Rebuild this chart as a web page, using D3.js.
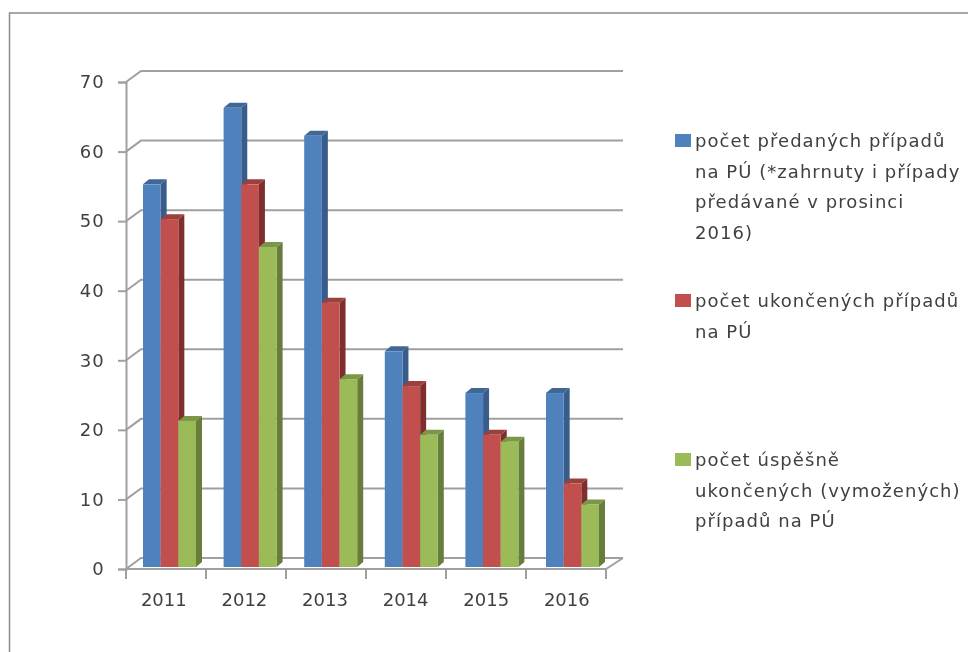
<!DOCTYPE html>
<html>
<head>
<meta charset="utf-8">
<script src="https://cdnjs.cloudflare.com/ajax/libs/d3/7.8.5/d3.min.js"></script>
<style>
	html, body { margin: 0; padding: 0; background: #fff; }
	svg { display: block; }
	text { font-family: "DejaVu Sans", sans-serif; fill: #404040; }
</style>
</head>
<body>
<svg id="chart" width="968" height="652"></svg>
<script>
var years = ["2011", "2012", "2013", "2014", "2015", "2016"];
var predane = [55, 66, 62, 31, 25, 25];
var ukoncene = [50, 55, 38, 26, 19, 12];
var uspesne = [21, 46, 27, 19, 18, 9];
var yTicks = [0, 10, 20, 30, 40, 50, 60, 70];

var seriesNames = [
	["počet předaných případů", "na PÚ (*zahrnuty i případy", "předávané v prosinci", "2016)"],
	["počet ukončených případů", "na PÚ"],
	["počet úspěšně", "ukončených (vymožených)", "případů na PÚ"]
];
var seriesValues = [predane, ukoncene, uspesne];
var front = ["#4f81bd", "#c0504d", "#9bbb59"];
var side = ["#385d8a", "#7f2f2d", "#667d3a"];
var top3d = ["#3f6797", "#9a403e", "#7c9647"];
var legendY = [140, 300, 459];

var gridColor = "#a0a0a0";
var svg = d3.select("#chart");

// blurry like the screenshot
var defs = svg.append("defs");
defs.append("filter").attr("id", "soft")
	.append("feGaussianBlur").attr("stdDeviation", 0.5);

var root = svg.append("g").attr("filter", "url(#soft)");

// outer frame
root.append("path")
	.attr("d", d3.line()([[9.5, 652], [9.5, 13], [968, 13]]))
	.attr("fill", "none")
	.attr("stroke", "#8c8c8c")
	.attr("stroke-width", 1.5);

var x0 = d3.scaleBand().domain(years).range([123.5, 607.1]);
var x1 = d3.scaleBand().domain(d3.range(3)).range([19.5, 72.5]);
var y = d3.scaleLinear().domain([0, 70]).range([569, 82]);

// depth of the wall and of the bars
var wallX = 15, wallY = -11;
var barDX = 6, barDY = -5, barLift = -2;

// back wall grid with the diagonals to the axis
root.append("g").selectAll("path")
	.data(yTicks)
	.enter().append("path")
	.attr("d", function(d) {
		return d3.line()([[126, y(d)], [126 + wallX, y(d) + wallY], [623, y(d) + wallY]]);
	})
	.attr("fill", "none")
	.attr("stroke", gridColor)
	.attr("stroke-width", 2);

// floor front edge
root.append("path")
	.attr("d", d3.line()([[126, y(0)], [606, y(0)], [623, y(0) + wallY]]))
	.attr("fill", "none")
	.attr("stroke", gridColor)
	.attr("stroke-width", 2);

// axes
var yAxis = d3.axisLeft(y).tickValues(yTicks).tickSize(8).tickPadding(13);
var yG = root.append("g").attr("transform", "translate(126,0)").call(yAxis);

var xAxis = d3.axisBottom(x0).tickSize(0).tickPadding(24);
var xG = root.append("g").attr("transform", "translate(0," + y(0) + ")").call(xAxis);

xG.select(".domain").remove();
yG.selectAll("text").style("font-size", "18px").style("letter-spacing", "1.2px");
xG.selectAll("text").style("font-size", "18px");
root.selectAll(".domain, .tick line")
	.attr("stroke", gridColor)
	.attr("stroke-width", 2);

// category ticks on the floor edge
root.append("g").selectAll("line")
	.data(years.concat("end"))
	.enter().append("line")
	.attr("x1", function(d, i) { return 126 + i * 80; })
	.attr("x2", function(d, i) { return 126 + i * 80; })
	.attr("y1", y(0))
	.attr("y2", y(0) + 10)
	.attr("stroke", gridColor)
	.attr("stroke-width", 2);

// bars, one layer per series so the next one covers the side of the previous
seriesValues.forEach(function(values, s) {
	var g = root.append("g");
	var w = x1.bandwidth();
	var bx = function(i) { return x0(years[i]) + x1(s); };
	var by = function(d) { return y(d) + barLift; };

	g.selectAll(".side")
		.data(values)
		.enter().append("path")
		.attr("class", "side")
		.attr("fill", side[s])
		.attr("d", function(d, i) {
			var r = bx(i) + w;
			return d3.line()([[r, by(d)], [r + barDX, by(d) + barDY], [r + barDX, by(0) + barDY], [r, by(0)]]) + "Z";
		});

	g.selectAll(".top")
		.data(values)
		.enter().append("path")
		.attr("class", "top")
		.attr("fill", top3d[s])
		.attr("d", function(d, i) {
			var l = bx(i);
			return d3.line()([[l, by(d)], [l + barDX, by(d) + barDY], [l + w + barDX, by(d) + barDY], [l + w, by(d)]]) + "Z";
		});

	g.selectAll(".front")
		.data(values)
		.enter().append("rect")
		.attr("class", "front")
		.attr("fill", front[s])
		.attr("x", function(d, i) { return bx(i); })
		.attr("y", by)
		.attr("width", w)
		.attr("height", function(d) { return by(0) - by(d); });
});

// legend
var legend = root.append("g").selectAll("g")
	.data(seriesNames)
	.enter().append("g")
	.attr("transform", function(d, i) { return "translate(0," + legendY[i] + ")"; });

legend.append("rect")
	.attr("x", 675)
	.attr("y", -6)
	.attr("width", 16)
	.attr("height", 13)
	.attr("fill", function(d, i) { return front[i]; });

legend.selectAll("text")
	.data(function(d) { return d; })
	.enter().append("text")
	.attr("x", 695)
	.attr("y", function(d, i) { return i * 30.5 + 7; })
	.style("font-size", "18px")
	.style("letter-spacing", "1.05px")
	.text(function(d) { return d; });
</script>
</body>
</html>
